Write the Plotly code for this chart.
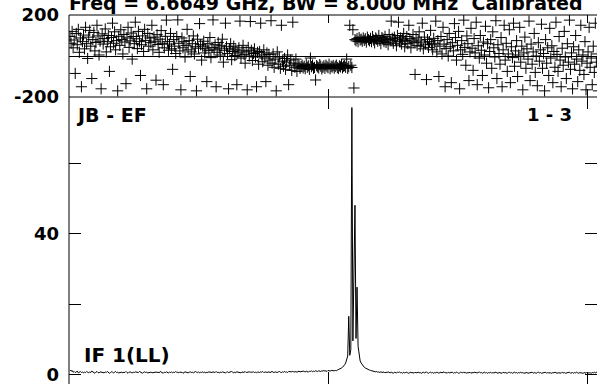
import plotly.graph_objects as go

# ---------------- data ----------------
channels = list(range(1, 513))

phase = [
    95, 62, 120, 40, 78, -85, 110, 55, 130, 18, 88, -150, 70, 102, 35, 140,
    60, -12, 92, 125, 48, -110, 80, 115, 25, 66, 150, 98, 5, 72, -160, 108,
    58, 85, 132, 20, 70, 100, -75, 45, 90, 160, 62, 118, 30, 75, -170, 96,
    52, 128, 80, 10, 105, 68, -135, 88, 140, 42, 74, 112, -15, 95, 60, 165,
    84, 36, 120, 70, -95, 55, 98, 22, 130, 76, -160, 110, 48, 88, 65, 150,
    30, 92, 72, -118, 104, 56, 18, 82, 124, 62, -140, 40, 96, 175, 70, 28,
    58, 110, 35, -65, 80, 48, 12, 95, 176, 62, 25, -165, 88, 40, 70, -5,
    52, 130, 30, 75, -100, 20, 60, 98, 10, 45, -170, 82, 38, 158, 55, -20,
    48, 72, 15, 35, -125, 60, 26, 90, -8, 42, 176, 30, 55, -150, 18, 66,
    38, 5, 50, 82, -30, 28, 160, 45, 12, -160, 35, 60, -18, 22, 48, 2,
    30, -140, 15, 40, 170, -10, 25, 52, 8, -35, 20, -165, 42, 0, 168, 28,
    -22, 12, 35, -5, -150, 18, -40, 22, 160, 5, -28, 30, -10, -125, 15, -45,
    8, -20, 172, -35, 10, -55, -15, -170, 20, -40, -5, -60, 150, -25, -50, -12,
    -65, -30, 5, -140, -45, -20, -70, 165, -35, -55, -15, -75, -40, -48, -60, -52,
    -45, -58, -50, -62, -40, -55, -48, -65, -10, -52, -44, -60, -56, -117, -47, -53,
    -58, -42, -50, -63, -55, -48, -60, -45, -52, -57, -40, -62, -50, -54, -46, -59,
    -51, -44, -56, -61, -48, -53, -42, -58, -50, -47, -55, -15, -60, -52, 150, -45,
    -56, 128, -156, 80, 74, 85, 70, 90, 78, 82, 72, 88, 76, 84, 68, 92,
    80, 74, 86, 70, 95, 78, 64, 88, 82, 72, 100, 76, 60, 90, 84, 70,
    96, 66, 80, 55, 105, 74, 170, 86, 62, 92, 78, 50, 100, 165, 70, 88,
    58, 82, 110, 45, 76, 95, 60, 150, 84, 40, 72, 105, 65, -90, 88, 52,
    78, 118, 48, 68, 160, 35, 92, 58, -115, 80, 42, 70, 125, 55, 30, 86,
    62, 170, 20, 75, -100, 48, 95, 10, 140, 58, -150, 36, 80, 0, 110, 45,
    -130, 65, 25, 158, 90, -20, 52, 120, -160, 30, 75, 8, 175, 42, -45, 98,
    60, -120, 20, 135, 38, -70, 85, 15, 165, -140, 50, -10, 100, 28, -95, 68,
    5, 145, -35, 60, -155, 22, 80, -60, 118, 40, -5, 172, -110, 55, 12, -40,
    90, -150, 30, 150, -20, 62, -75, 10, 128, -130, 45, -8, 160, -50, 25, 75,
    -100, 5, 140, -30, 48, -165, 15, 92, -60, 35, -15, 170, -120, 58, -40, 20,
    110, -80, 0, -145, 65, -25, 30, 155, -60, 12, -170, 80, -35, 40, -95, 135,
    -10, 50, -130, 22, -55, 165, 8, -75, 95, -20, -150, 38, -45, 120, -5, -110,
    60, -30, 175, -65, 15, -160, 45, -40, 100, -15, -125, 30, -70, 150, -25, 5,
    -90, 70, -165, -35, 20, 140, -55, -10, -140, 48, -80, 160, -30, 10, -170, -50,
]

amplitude = [
    1.2, 0.9, 1.1, 0.6, 0.8, 0.5, 0.7, 0.9, 0.4, 0.6, 0.8, 0.5, 0.7, 0.4, 0.6, 0.5,
    0.8, 0.6, 0.4, 0.7, 0.5, 0.9, 0.6, 0.5, 0.3, 0.6, 0.8, 0.5, 0.4, 0.7, 0.6, 0.5,
    0.6, 0.4, 0.7, 0.5, 0.8, 0.6, 0.3, 0.5, 0.7, 0.6, 0.4, 0.6, 0.8, 0.5, 0.6, 0.4,
    0.5, 0.7, 0.6, 0.4, 0.6, 0.5, 0.8, 0.5, 0.3, 0.6, 0.7, 0.5, 0.4, 0.6, 0.5, 0.7,
    0.6, 0.4, 0.5, 0.8, 0.6, 0.5, 0.3, 0.6, 0.7, 0.5, 0.6, 0.4, 0.5, 0.7, 0.6, 0.5,
    0.4, 0.6, 0.5, 0.7, 0.5, 0.6, 0.4, 0.8, 0.6, 0.5, 0.3, 0.6, 0.5, 0.7, 0.6, 0.4,
    0.6, 0.5, 0.7, 0.4, 0.6, 0.5, 0.8, 0.5, 0.6, 0.4, 0.7, 0.5, 0.6, 0.3, 0.5, 0.7,
    0.6, 0.5, 0.4, 0.6, 0.7, 0.5, 0.6, 0.4, 0.5, 0.8, 0.6, 0.5, 0.7, 0.4, 0.6, 0.5,
    0.7, 0.5, 0.6, 0.4, 0.6, 0.5, 0.7, 0.6, 0.4, 0.5, 0.7, 0.6, 0.5, 0.8, 0.5, 0.6,
    0.4, 0.6, 0.5, 0.7, 0.6, 0.5, 0.4, 0.6, 0.7, 0.5, 0.6, 0.5, 0.8, 0.6, 0.4, 0.6,
    0.5, 0.7, 0.6, 0.5, 0.6, 0.4, 0.7, 0.5, 0.6, 0.8, 0.5, 0.6, 0.5, 0.7, 0.6, 0.5,
    0.6, 0.7, 0.5, 0.6, 0.4, 0.7, 0.6, 0.5, 0.7, 0.6, 0.8, 0.5, 0.6, 0.7, 0.5, 0.6,
    0.7, 0.5, 0.6, 0.8, 0.6, 0.5, 0.7, 0.6, 0.5, 0.7, 0.8, 0.6, 0.5, 0.7, 0.6, 0.8,
    0.6, 0.7, 0.5, 0.8, 0.7, 0.6, 0.7, 0.9, 0.6, 0.7, 0.8, 0.6, 0.7, 0.9, 0.7, 0.8,
    0.7, 0.9, 0.8, 0.7, 0.9, 0.8, 0.6, 0.9, 0.8, 1.0, 0.7, 0.9, 0.8, 1.0, 0.9, 0.8,
    1.0, 0.9, 0.8, 1.0, 0.9, 1.1, 0.9, 1.0, 0.8, 1.1, 1.0, 0.9, 1.1, 1.0, 0.9, 1.0,
    1.1, 1.0, 1.2, 1.3, 1.5, 1.6, 1.8, 2.0, 2.3, 2.7, 3.2, 4.0, 5.2, 16.5, 5.4, 7.0,
    75.9, 9.5, 26.7, 48.1, 10.2, 24.8, 8.0, 5.5, 3.8, 3.2, 2.7, 2.3, 2.0, 1.8, 1.6, 1.5,
    1.3, 1.2, 1.1, 1.0, 0.9, 0.9, 0.8, 0.7, 0.8, 0.6, 0.7, 0.5, 0.7, 0.6, 0.5, 0.7,
    0.4, 0.6, 0.5, 0.7, 0.5, 0.4, 0.6, 0.5, 0.3, 0.6, 0.5, 0.4, 0.6, 0.5, 0.7, 0.4,
    0.5, 0.3, 0.6, 0.4, 0.5, 0.6, 0.4, 0.3, 0.5, 0.6, 0.4, 0.5, 0.3, 0.6, 0.4, 0.5,
    0.6, 0.4, 0.5, 0.3, 0.5, 0.6, 0.4, 0.5, 0.7, 0.4, 0.3, 0.5, 0.6, 0.4, 0.5, 0.3,
    0.5, 0.4, 0.6, 0.5, 0.3, 0.5, 0.6, 0.4, 0.5, 0.7, 0.4, 0.5, 0.3, 0.6, 0.4, 0.5,
    0.4, 0.6, 0.3, 0.5, 0.4, 0.6, 0.5, 0.3, 0.4, 0.6, 0.5, 0.4, 0.7, 0.4, 0.5, 0.3,
    0.5, 0.4, 0.6, 0.3, 0.5, 0.4, 0.6, 0.5, 0.3, 0.4, 0.5, 0.7, 0.4, 0.5, 0.3, 0.4,
    0.6, 0.4, 0.5, 0.3, 0.5, 0.4, 0.6, 0.3, 0.5, 0.4, 0.5, 0.6, 0.4, 0.3, 0.5, 0.4,
    0.5, 0.3, 0.6, 0.4, 0.5, 0.4, 0.3, 0.5, 0.6, 0.4, 0.5, 0.3, 0.4, 0.6, 0.4, 0.5,
    0.3, 0.5, 0.4, 0.6, 0.4, 0.5, 0.3, 0.4, 0.6, 0.5, 0.3, 0.4, 0.5, 0.4, 0.6, 0.3,
    0.5, 0.4, 0.3, 0.5, 0.6, 0.4, 0.5, 0.3, 0.4, 0.5, 0.4, 0.6, 0.3, 0.5, 0.4, 0.5,
    0.4, 0.3, 0.5, 0.4, 0.6, 0.5, 0.3, 0.4, 0.5, 0.4, 0.3, 0.6, 0.4, 0.5, 0.3, 0.4,
    0.5, 0.4, 0.6, 0.3, 0.4, 0.5, 0.3, 0.5, 0.4, 0.6, 0.4, 0.3, 0.5, 0.4, 0.5, 0.3,
    0.4, 0.5, 0.3, 0.6, 0.4, 0.5, 0.4, 0.3, 0.5, 0.4, 0.6, 0.4, 0.5, 0.7, 0.5, 0.6,
]

title_text = "Freq = 6.6649 GHz, BW = 8.000 MHz  Calibrated"
baseline_label = "JB - EF"
channel_label = "1 - 3"
pol_label = "IF 1(LL)"

phase_ticks = [-200, 200]
phase_ticktext = ["-200", "200"]
amp_ticks = [0, 20, 40, 60]
amp_ticktext = ["0", "", "40", ""]
chan_ticks = [0, 250, 500]

# ---------------- layout helpers ----------------
W, H = 597, 384
ML, MT = 69, 15
PW, PH = W - ML, H - MT


def pyf(px):
    return 1 - (px - MT) / PH


def pxf(px):
    return (px - ML) / PW


split = pyf(97)
FONT = "DejaVu Sans"

fig = go.Figure()
fig.add_trace(go.Scatter(
    x=channels, y=phase, mode="markers", xaxis="x", yaxis="y",
    marker=dict(symbol="cross-thin", size=8, line=dict(width=1, color="black"), color="black"),
    hoverinfo="skip", showlegend=False, cliponaxis=True,
))
fig.add_trace(go.Scatter(
    x=channels, y=amplitude, mode="lines", xaxis="x2", yaxis="y2",
    line=dict(color="black", width=1),
    hoverinfo="skip", showlegend=False,
))

common_x = dict(range=[0, 509.6], tickvals=chan_ticks, showticklabels=False,
                ticks="inside", tickcolor="black", tickwidth=1, mirror="ticks",
                showline=False, showgrid=False, zeroline=False, automargin=False)
tickfont = dict(family=FONT, size=18, color="black", weight="bold")

fig.update_layout(
    width=W, height=H,
    margin=dict(l=ML, r=0, t=MT, b=0, pad=0, autoexpand=False),
    paper_bgcolor="white", plot_bgcolor="white",
    showlegend=False,
    xaxis=dict(domain=[0, 1], anchor="y", ticklen=8, **common_x),
    xaxis2=dict(domain=[0, 1], anchor="y2", matches="x", ticklen=12, **common_x),
    yaxis=dict(domain=[split, 1], anchor="x", range=[-200, 200], tickvals=phase_ticks,
               ticktext=phase_ticktext, ticklabelstandoff=9, ticklabeloverflow="allow",
               ticks="inside", ticklen=10, tickcolor="black", mirror="ticks",
               showline=False, showgrid=False, zeroline=True, zerolinecolor="black",
               zerolinewidth=1, tickfont=tickfont, automargin=False),
    yaxis2=dict(domain=[0, split], anchor="x2", range=[-2.76, 78.9], tickvals=amp_ticks,
                ticktext=amp_ticktext, ticklabelstandoff=9, ticklabeloverflow="allow",
                ticks="inside", ticklen=12,
                tickcolor="black", mirror="ticks", showline=False, showgrid=False,
                zeroline=False, tickfont=tickfont, automargin=False),
)

line_style = dict(color="black", width=1)
fig.add_shape(type="line", xref="paper", yref="paper", x0=0, x1=0, y0=0, y1=1, line=line_style)
fig.add_shape(type="line", xref="paper", yref="paper", x0=0, x1=1, y0=1, y1=1, line=line_style)
fig.add_shape(type="line", xref="paper", yref="paper", x0=0, x1=1, y0=split, y1=split, line=line_style)

ann_font = lambda s: dict(family=FONT, size=s, color="black", weight="bold")
fig.add_annotation(text=title_text, xref="paper", yref="paper", x=pxf(67), y=pyf(3),
                   xanchor="left", yanchor="middle", showarrow=False, font=ann_font(19))
fig.add_annotation(text=baseline_label, xref="paper", yref="paper", x=pxf(74), y=pyf(115),
                   xanchor="left", yanchor="middle", showarrow=False, font=ann_font(19))
fig.add_annotation(text=channel_label, xref="paper", yref="paper", x=pxf(574), y=pyf(115),
                   xanchor="right", yanchor="middle", showarrow=False, font=ann_font(18))
fig.add_annotation(text=pol_label, xref="paper", yref="paper", x=pxf(82), y=pyf(354.5),
                   xanchor="left", yanchor="middle", showarrow=False, font=ann_font(20))

fig.write_html(
    "out.html",
    config={"displayModeBar": False},
    post_script="document.body.style.margin='0';document.body.style.overflow='hidden';",
)
